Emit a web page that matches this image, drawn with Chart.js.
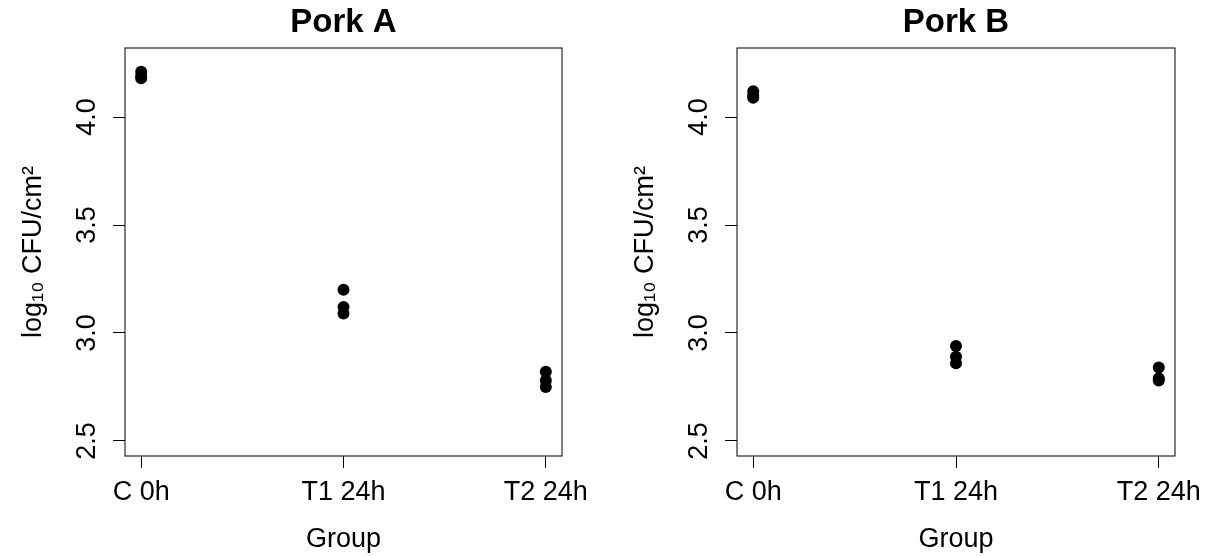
<!DOCTYPE html>
<html><head><meta charset="utf-8">
<script src="https://cdn.jsdelivr.net/npm/chart.js@4"></script>
<style>
html,body{margin:0;padding:0;background:#fff;overflow:hidden}
#wrap{position:relative;width:1208px;height:556px}
canvas{position:absolute;top:0}
</style></head><body>
<div id="wrap">
<canvas id="a" width="604" height="556" style="left:0px"></canvas>
<canvas id="b" width="604" height="556" style="left:604px"></canvas>
</div>
<script>
// ---- data ----
const groups = ["C 0h", "T1 24h", "T2 24h"];
const yTickValues = [2.5, 3.0, 3.5, 4.0];
const porkA_C0h  = [4.21, 4.19, 4.18];
const porkA_T1   = [3.20, 3.12, 3.09];
const porkA_T2   = [2.82, 2.78, 2.75];
const porkB_C0h  = [4.12, 4.10, 4.09];
const porkB_T1   = [2.94, 2.89, 2.86];
const porkB_T2   = [2.84, 2.79, 2.78];
const titles = ["Pork A", "Pork B"];
const yLabel = "log\u2081\u2080 CFU/cm\u00B2";
const xLabel = "Group";

const FONT = '"Liberation Sans", Arial, sans-serif';

function points(seriesList) {
  const pts = [];
  seriesList.forEach((vals, gi) => vals.forEach(v => pts.push({x: gi + 1, y: v})));
  return pts;
}

const boxPlugin = {
  id: 'box',
  afterDraw(chart) {
    const {ctx, chartArea: {left, top, right, bottom}} = chart;
    ctx.save();
    ctx.strokeStyle = '#000';
    ctx.lineWidth = 1;
    ctx.strokeRect(left, top, right - left, bottom - top);
    ctx.restore();
  }
};

function makeChart(id, title, data, padLeft, padRight) {
  return new Chart(document.getElementById(id), {
    type: 'scatter',
    data: { datasets: [{ data: data, backgroundColor: '#000', borderWidth: 0, pointRadius: 6, pointHoverRadius: 6 }] },
    plugins: [boxPlugin],
    options: {
      responsive: false,
      animation: false,
      events: [],
      layout: { padding: { left: padLeft, right: padRight, top: 0, bottom: 0 } },
      plugins: {
        legend: { display: false },
        tooltip: { enabled: false },
        title: {
          display: true, text: title, color: '#000', fullSize: false,
          font: { family: FONT, size: 33, weight: 'bold', lineHeight: 1.2 },
          padding: { top: 3, bottom: 5.4 }
        }
      },
      scales: {
        x: {
          type: 'linear', min: 0.92, max: 3.08,
          afterBuildTicks: s => { s.ticks = groups.map((g, i) => ({ value: i + 1 })); },
          afterFit: s => { s.height = 100; },
          ticks: {
            color: '#000', padding: 0, maxRotation: 0, minRotation: 0, autoSkip: false,
            font: { family: FONT, size: 27, lineHeight: 1.822 },
            callback: v => groups[Math.round(v) - 1]
          },
          grid: { display: true, drawOnChartArea: false, drawTicks: true, tickLength: 12, color: '#000', lineWidth: 1 },
          border: { display: false },
          title: { display: true, text: xLabel, color: '#000', font: { family: FONT, size: 27, lineHeight: 1.2 }, padding: { top: 0, bottom: 0 } }
        },
        y: {
          type: 'linear', min: 2.43, max: 4.32,
          afterBuildTicks: s => { s.ticks = yTickValues.map(v => ({ value: v })); },
          afterFit: s => { s.width = 125; },
          ticks: {
            color: '#000', padding: 7, minRotation: 90, maxRotation: 90, crossAlign: 'center', autoSkip: false,
            font: { family: FONT, size: 27, lineHeight: 1.2 },
            callback: v => v.toFixed(1)
          },
          grid: { display: true, drawOnChartArea: false, drawTicks: true, tickLength: 12, color: '#000', lineWidth: 1 },
          border: { display: false },
          title: { display: true, text: yLabel, color: '#000', font: { family: FONT, size: 27, lineHeight: 1.2 }, padding: { top: 17, bottom: 0 } }
        }
      }
    }
  });
}

makeChart('a', titles[0], points([porkA_C0h, porkA_T1, porkA_T2]), 0, 42);
makeChart('b', titles[1], points([porkB_C0h, porkB_T1, porkB_T2]), 8, 33);
</script>
</body></html>
